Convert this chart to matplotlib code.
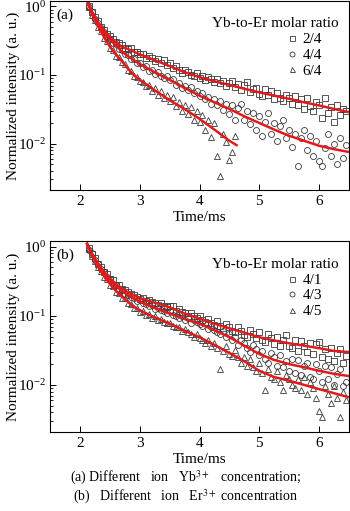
import matplotlib
matplotlib.use("Agg")
import matplotlib.pyplot as plt
from matplotlib.lines import Line2D

plt.rcParams["font.family"] = ["Liberation Serif", "DejaVu Serif"]
plt.rcParams["mathtext.fontset"] = "stix"
plt.rcParams["axes.unicode_minus"] = False
plt.rcParams["font.size"] = 11

# sampling times (ms), shared by all measured series
t = [2.15, 2.20, 2.25, 2.30, 2.35, 2.40, 2.45, 2.50, 2.55, 2.60,
     2.65, 2.70, 2.75, 2.80, 2.85, 2.90, 2.95, 3.00, 3.05, 3.10,
     3.15, 3.20, 3.25, 3.30, 3.35, 3.40, 3.45, 3.50, 3.55, 3.60,
     3.65, 3.70, 3.75, 3.80, 3.85, 3.90, 3.95, 4.00, 4.05, 4.10,
     4.15, 4.20, 4.25, 4.30, 4.35, 4.40, 4.45, 4.50, 4.55, 4.60,
     4.65, 4.70, 4.75, 4.80, 4.85, 4.90, 4.95, 5.00, 5.05, 5.10,
     5.15, 5.20, 5.25, 5.30, 5.35, 5.40, 5.45, 5.50, 5.55, 5.60,
     5.65, 5.70, 5.75, 5.80, 5.85, 5.90, 5.95, 6.00, 6.05, 6.10,
     6.15, 6.20, 6.25, 6.30, 6.35, 6.40, 6.45]

# panel (a): Yb-to-Er 2/4, 4/4, 6/4
a_24 = [1.02, 0.83, 0.70, 0.61, 0.51, 0.46, 0.39, 0.37, 0.34, 0.30,
        0.29, 0.27, 0.25, 0.24, 0.245, 0.22, 0.215, 0.20, 0.205, 0.18,
        0.19, 0.175, 0.16, 0.17, 0.15, 0.165, 0.14, 0.15, 0.125, 0.135,
        0.12, 0.108, 0.118, 0.112, 0.10, 0.098, 0.106, 0.09, 0.097, 0.084,
        0.094, 0.088, 0.078, 0.087, 0.076, 0.083, 0.07, 0.076, 0.081, 0.066,
        0.073, 0.06, 0.072, 0.078, 0.057, 0.062, 0.065, 0.053, 0.05, 0.063,
        0.051, 0.058, 0.045, 0.055, 0.047, 0.042, 0.052, 0.046, 0.038, 0.049,
        0.036, 0.044, 0.032, 0.046, 0.035, 0.03, 0.041, 0.037, 0.024, 0.046,
        0.028, 0.034, 0.021, 0.036, 0.026, 0.032, 0.03]
a_44 = [0.98, 0.84, 0.66, 0.58, 0.48, 0.43, 0.36, 0.34, 0.29, 0.28,
        0.24, 0.23, 0.20, 0.195, 0.17, 0.17, 0.15, 0.15, 0.13, 0.135,
        0.115, 0.12, 0.105, 0.11, 0.097, 0.092, 0.096, 0.085, 0.088, 0.072,
        0.077, 0.064, 0.07, 0.06, 0.066, 0.055, 0.058, 0.05, 0.054, 0.044,
        0.048, 0.038, 0.045, 0.036, 0.042, 0.031, 0.038, 0.027, 0.036, 0.022,
        0.033, 0.038, 0.022, 0.03, 0.019, 0.028, 0.016, 0.025, 0.013, 0.021,
        0.028, 0.014, 0.02, 0.011, 0.018, 0.022, 0.012, 0.016, 0.009, 0.014,
        0.0047, 0.012, 0.016, 0.008, 0.013, 0.0065, 0.011, 0.0055, 0.0047, 0.0085,
        0.014, 0.0065, 0.0098, 0.005, 0.012, 0.0062, 0.0095]
a_64 = [0.97, 0.76, 0.64, 0.50, 0.44, 0.35, 0.31, 0.25, 0.235, 0.19,
        0.185, 0.155, 0.145, 0.12, 0.115, 0.096, 0.095, 0.082, 0.08, 0.07,
        0.071, 0.058, 0.065, 0.052, 0.058, 0.047, 0.052, 0.042, 0.048, 0.035,
        0.04, 0.03, 0.036, 0.027, 0.034, 0.022, 0.03, 0.021, 0.026, 0.016,
        0.022, 0.0125, 0.02, 0.0066, 0.0034, 0.014, 0.0105, 0.0058, 0.0075, 0.013]

# panel (b): Yb-to-Er 4/1, 4/3, 4/5
b_41 = [0.95, 0.78, 0.69, 0.57, 0.51, 0.43, 0.40, 0.34, 0.33, 0.28,
        0.28, 0.245, 0.24, 0.22, 0.205, 0.2, 0.19, 0.175, 0.18, 0.165,
        0.17, 0.16, 0.152, 0.145, 0.155, 0.14, 0.132, 0.138, 0.14, 0.118,
        0.125, 0.112, 0.108, 0.1, 0.108, 0.098, 0.092, 0.1, 0.087, 0.082,
        0.09, 0.079, 0.074, 0.084, 0.072, 0.066, 0.076, 0.07, 0.061, 0.058,
        0.068, 0.06, 0.053, 0.05, 0.062, 0.055, 0.048, 0.058, 0.045, 0.042,
        0.055, 0.047, 0.039, 0.05, 0.037, 0.044, 0.052, 0.036, 0.034, 0.045,
        0.031, 0.043, 0.036, 0.03, 0.041, 0.028, 0.039, 0.042, 0.025, 0.033,
        0.024, 0.034, 0.022, 0.029, 0.033, 0.021, 0.026]
b_43 = [0.9, 0.8, 0.64, 0.57, 0.47, 0.43, 0.36, 0.34, 0.29, 0.28,
        0.24, 0.235, 0.21, 0.2, 0.19, 0.178, 0.165, 0.172, 0.155, 0.148,
        0.138, 0.144, 0.125, 0.13, 0.122, 0.118, 0.11, 0.116, 0.104, 0.098,
        0.093, 0.1, 0.086, 0.092, 0.08, 0.087, 0.082, 0.076, 0.072, 0.079,
        0.064, 0.07, 0.062, 0.058, 0.054, 0.06, 0.05, 0.055, 0.045, 0.05,
        0.038, 0.044, 0.04, 0.034, 0.03, 0.038, 0.033, 0.027, 0.031, 0.024,
        0.021, 0.029, 0.025, 0.019, 0.027, 0.018, 0.022, 0.016, 0.024, 0.015,
        0.023, 0.014, 0.019, 0.021, 0.013, 0.012, 0.02, 0.016, 0.011, 0.019,
        0.012, 0.018, 0.01, 0.0145, 0.017, 0.0095, 0.011]
b_45 = [0.92, 0.73, 0.63, 0.50, 0.45, 0.37, 0.34, 0.28, 0.27, 0.22,
        0.215, 0.18, 0.18, 0.155, 0.15, 0.13, 0.13, 0.115, 0.118, 0.103,
        0.106, 0.094, 0.098, 0.087, 0.09, 0.082, 0.078, 0.08, 0.072, 0.068,
        0.07, 0.061, 0.064, 0.058, 0.055, 0.05, 0.055, 0.047, 0.045, 0.041,
        0.045, 0.037, 0.041, 0.034, 0.017, 0.031, 0.036, 0.028, 0.026, 0.032,
        0.025, 0.021, 0.025, 0.019, 0.024, 0.018, 0.016, 0.021, 0.015, 0.0085,
        0.017, 0.013, 0.012, 0.016, 0.011, 0.0085, 0.014, 0.012, 0.01, 0.009,
        0.012, 0.0085, 0.013, 0.0075, 0.011, 0.009, 0.0065, 0.0042, 0.0034, 0.0095,
        0.0075, 0.0055, 0.0095, 0.0065, 0.0034, 0.008, 0.006]

# fitted curves
tf = [2.12, 2.2, 2.3, 2.4, 2.5, 2.6, 2.7, 2.8, 2.9, 3.0, 3.25, 3.5,
      3.75, 4.0, 4.25, 4.5, 4.75, 5.0, 5.25, 5.5, 5.75, 6.0, 6.25, 6.48]
fa_24 = [1.25, 0.85, 0.6, 0.45, 0.36, 0.30, 0.26, 0.24, 0.22, 0.20, 0.165, 0.135,
         0.11, 0.093, 0.081, 0.072, 0.063, 0.056, 0.050, 0.045, 0.040, 0.036, 0.032, 0.029]
fa_44 = [1.25, 0.82, 0.57, 0.42, 0.33, 0.27, 0.22, 0.19, 0.165, 0.145, 0.11, 0.085,
         0.065, 0.05, 0.04, 0.032, 0.025, 0.020, 0.016, 0.013, 0.011, 0.0093, 0.0083, 0.0076]
tf_64 = [2.12, 2.2, 2.3, 2.4, 2.5, 2.6, 2.7, 2.8, 2.9, 3.0, 3.25, 3.5,
         3.75, 4.0, 4.25, 4.5, 4.62]
fa_64 = [1.2, 0.78, 0.52, 0.36, 0.26, 0.2, 0.16, 0.125, 0.1, 0.085, 0.06, 0.043,
         0.032, 0.023, 0.016, 0.011, 0.0095]
fb_41 = [1.1, 0.8, 0.58, 0.44, 0.35, 0.29, 0.25, 0.22, 0.2, 0.18, 0.155, 0.133,
         0.108, 0.091, 0.077, 0.066, 0.057, 0.049, 0.044, 0.040, 0.037, 0.034, 0.031, 0.030]
fb_43 = [1.1, 0.78, 0.56, 0.42, 0.33, 0.27, 0.23, 0.20, 0.18, 0.16, 0.13, 0.108,
         0.09, 0.077, 0.062, 0.049, 0.037, 0.028, 0.023, 0.020, 0.018, 0.016, 0.0145, 0.0135]
fb_45 = [1.1, 0.75, 0.52, 0.38, 0.29, 0.23, 0.19, 0.16, 0.135, 0.12, 0.095, 0.077,
         0.061, 0.049, 0.038, 0.029, 0.022, 0.016, 0.013, 0.0115, 0.010, 0.0087, 0.0076, 0.0067]

markers = ["s", "o", "^"]
edge = "#3a3a3a"
red = "#e31a1c"

fig = plt.figure(figsize=(3.5, 5.11), dpi=100)
ax1 = fig.add_axes([0.143, 0.628, 0.854, 0.370])
ax2 = fig.add_axes([0.143, 0.155, 0.854, 0.373])

panels = [
    (ax1, "(a)", [a_24, a_44, a_64], [(tf, fa_24), (tf, fa_44), (tf_64, fa_64)], ["2/4", "4/4", "6/4"]),
    (ax2, "(b)", [b_41, b_43, b_45], [(tf, fb_41), (tf, fb_43), (tf, fb_45)], ["4/1", "4/3", "4/5"]),
]

for ax, tag, series, fits, labels in panels:
    for ys, m in zip(series, markers):
        ax.plot(t[:len(ys)], ys, linestyle="none", marker=m, markersize=4.3,
                markerfacecolor="none", markeredgecolor=edge, markeredgewidth=0.6)
    for xf, yf in fits:
        ax.plot(xf, yf, color=red, linewidth=1.8)
    ax.set_yscale("log")
    ax.set_xlim(1.5, 6.5)
    ax.set_ylim(0.0021, 1.2)
    ax.set_xticks([2, 3, 4, 5, 6])
    ax.xaxis.set_minor_locator(plt.NullLocator())
    ax.tick_params(which="both", direction="in", top=False, right=False)
    ax.tick_params(which="major", length=4, width=0.7)
    ax.tick_params(which="minor", length=2.5, width=0.6)
    ax.tick_params(axis="y", pad=2.5)
    for s in ax.spines.values():
        s.set_linewidth(0.8)
    ax.set_xlabel("Time/ms", labelpad=2.5)
    ax.set_ylabel("Normalized intensity (a. u.)")
    ax.yaxis.set_label_coords(-0.102, 0.5)
    ax.text(0.022, 0.96, tag, transform=ax.transAxes, ha="left", va="top")
    ax.text(0.965, 0.88, "Yb-to-Er molar ratio", transform=ax.transAxes,
            ha="right", va="center")
    handles = [Line2D([], [], linestyle="none", marker=m, markersize=3.6,
                      markerfacecolor="none", markeredgecolor=edge, markeredgewidth=0.6)
               for m in markers]
    ax.legend(handles, labels, loc="upper left", bbox_to_anchor=(0.785, 0.84),
              frameon=False, handlelength=0.8, handletextpad=0.25,
              labelspacing=0.12, borderpad=0.1, borderaxespad=0)

fig.text(0.53, 0.064, "(a) Different   ion   Yb$^{3+}$   concentration;",
         ha="center", va="center", fontsize=10)
fig.text(0.53, 0.027, "(b)   Different   ion   Er$^{3+}$ concentration",
         ha="center", va="center", fontsize=10)

fig.savefig("out.png", dpi=100)
